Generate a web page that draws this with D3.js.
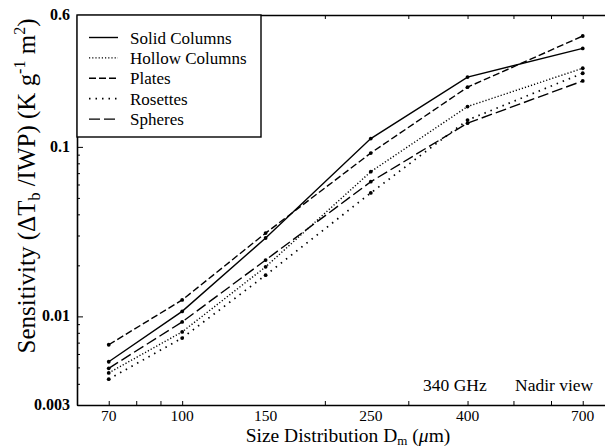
<!DOCTYPE html>
<html><head><meta charset="utf-8">
<script src="https://cdn.jsdelivr.net/npm/d3@7"></script>
<style>body{margin:0;background:#fff}svg{display:block}text{font-family:"Liberation Serif","Times New Roman",serif;fill:#000}</style>
</head><body><svg id="c" width="605" height="448" font-family="Liberation Serif, Times New Roman, serif"></svg>
<script>
// ---- data ----
const sizes = [70, 100, 150, 250, 400, 700];
const xTickLabels = [70, 100, 150, 250, 400, 700];
const yTickLabels = [0.003, 0.01, 0.1, 0.6];
const seriesNames = ["Solid Columns", "Hollow Columns", "Plates", "Rosettes", "Spheres"];
const solidColumns  = [0.0054, 0.0107, 0.0290, 0.112, 0.258, 0.381];
const hollowColumns = [0.00464, 0.0081, 0.0196, 0.0714, 0.173, 0.291];
const plates        = [0.0068, 0.0125, 0.0310, 0.092, 0.225, 0.451];
const rosettes      = [0.00426, 0.00745, 0.0175, 0.0535, 0.144, 0.272];
const spheres       = [0.00494, 0.00927, 0.0215, 0.0623, 0.138, 0.245];
const seriesValues = [solidColumns, hollowColumns, plates, rosettes, spheres];
const dashes = [null, "1.2,2", "7,3", "1.5,5", "11,4"];

const svg = d3.select("#c");
const L = 77, T = 15, B = 405;
const perDecade = 474;
const x = d3.scaleLog().domain([60, 800])
  .range([L, L + perDecade * Math.log10(800 / 60)]);
const y = d3.scaleLog().domain([0.003, 0.6]).range([B, T]);

// ticks
const xMinor = [60,70,80,90,100,200,300,400,500,600,700,800];
const yMinor = [0.003,0.004,0.005,0.006,0.007,0.008,0.009,0.01,0.02,0.03,0.04,0.05,0.06,0.07,0.08,0.09,0.1,0.2,0.3,0.4,0.5,0.6];
const g = svg.append("g");

g.append("g").attr("transform", `translate(0,${B})`)
  .call(d3.axisBottom(x).tickValues(xMinor).tickSizeInner(-4).tickSizeOuter(0).tickFormat(""));
g.append("g").attr("transform", `translate(0,${T})`)
  .call(d3.axisTop(x).tickValues(xMinor).tickSizeInner(-4).tickSizeOuter(0).tickFormat(""));
const ylg = g.append("g").attr("transform", `translate(${L},0)`)
  .call(d3.axisLeft(y).tickValues(yMinor).tickSizeInner(-3).tickSizeOuter(0).tickFormat(""));
ylg.selectAll(".tick line").attr("x2", d => (d === 0.01 || d === 0.1) ? 6 : 3);
svg.selectAll(".domain").attr("stroke-width", 1.6);

// tick labels
svg.append("g").selectAll("text").data(xTickLabels).join("text")
  .attr("x", d => x(d)).attr("y", 421).attr("text-anchor", "middle")
  .attr("font-size", 15.5).text(d => d);
svg.append("g").selectAll("text").data(yTickLabels).join("text")
  .attr("x", 70).attr("y", d => y(d) + 5).attr("text-anchor", "end")
  .attr("font-size", 16).attr("font-weight", "bold").text(d => d);

// lines
const line = d3.line().x((d, i) => x(sizes[i])).y(d => y(d));
seriesValues.forEach((vals, k) => {
  svg.append("path").attr("d", line(vals)).attr("fill", "none")
    .attr("stroke", "#000").attr("stroke-width", k === 3 ? 1.7 : 1.4)
    .attr("stroke-dasharray", dashes[k]);
  svg.append("g").selectAll("circle").data(vals).join("circle")
    .attr("cx", (d, i) => x(sizes[i])).attr("cy", d => y(d)).attr("r", 1.9).attr("fill", "#000");
});

// legend
const lg = svg.append("g");
lg.append("rect").attr("x", L).attr("y", T).attr("width", 184).attr("height", 122)
  .attr("fill", "#fff").attr("stroke", "#000").attr("stroke-width", 1.4);
seriesNames.forEach((n, k) => {
  const yy = 37.5 + k * 20.4;
  lg.append("line").attr("x1", 89).attr("x2", 118).attr("y1", yy).attr("y2", yy)
    .attr("stroke", "#000").attr("stroke-width", k === 3 ? 1.7 : 1.4).attr("stroke-dasharray", dashes[k]);
  lg.append("text").attr("x", 130).attr("y", yy + 6).attr("font-size", 17).text(n);
});

// annotations
svg.append("text").attr("x", 423).attr("y", 391).attr("font-size", 17.5).text("340 GHz");
svg.append("text").attr("x", 515).attr("y", 391).attr("font-size", 17.5).text("Nadir view");

// axis titles
const xt2 = svg.append("text").attr("x", 348).attr("y", 442).attr("text-anchor", "middle").attr("font-size", 19.5);
xt2.append("tspan").text("Size Distribution D");
xt2.append("tspan").attr("font-size", 13).attr("dy", 3).text("m");
xt2.append("tspan").attr("dy", -3).text(" (");
xt2.append("tspan").attr("font-style", "italic").text("μ");
xt2.append("tspan").text("m)");

const yt = svg.append("text").attr("transform", "translate(35,186) rotate(-90)")
  .attr("text-anchor", "middle").attr("font-size", 25);
yt.append("tspan").text("Sensitivity (ΔT");
yt.append("tspan").attr("font-size", 16).attr("dy", 5).text("b");
yt.append("tspan").attr("dy", -5).text(" /IWP) (K g");
yt.append("tspan").attr("font-size", 16).attr("dy", -10).text("-1");
yt.append("tspan").attr("dy", 10).text(" m");
yt.append("tspan").attr("font-size", 16).attr("dy", -10).text("2");
yt.append("tspan").attr("dy", 10).text(")");
</script></body></html>
